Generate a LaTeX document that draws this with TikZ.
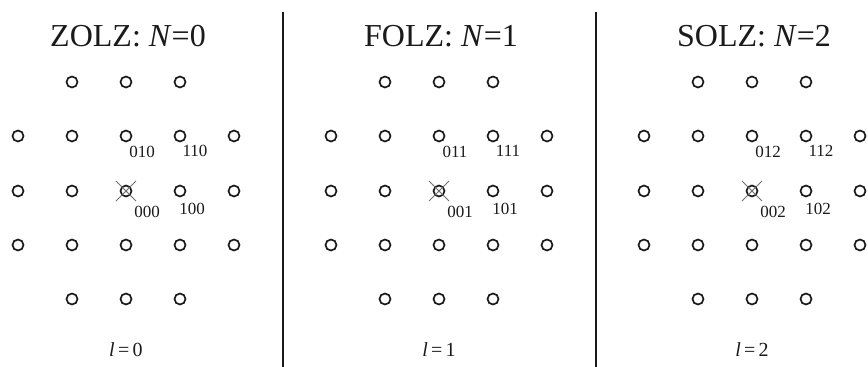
\documentclass[tikz,border=0pt]{standalone}
\usepackage{fontspec}
\setmainfont{Liberation Serif}
\usetikzlibrary{positioning}
\definecolor{ink}{HTML}{1A1A1A}
\definecolor{crossline}{HTML}{707070}
\newcommand{\titlesize}{\fontsize{32}{36}\selectfont}
\newcommand{\idxsize}{\fontsize{17}{19}\selectfont}
\newcommand{\lvlsize}{\fontsize{20}{22}\selectfont}
\tikzset{
 every node/.append style={text=ink,align=center},
 spot/.style={circle,draw=ink,line width=1.7pt,minimum size=11pt,inner sep=0pt},
 centredot/.style={circle,fill=ink,minimum size=2.6pt,inner sep=0pt},
 crossmark/.style={draw=crossline,line width=.8pt},
 index/.style={font=\idxsize,inner sep=0pt},
 title/.style={font=\titlesize,inner sep=1pt},
 level/.style={font=\lvlsize,inner sep=1pt},
 divider/.style={draw=ink,line width=1.6pt},
}
% #1 centre x, #2 name, #3 zone, #4 N
\newcommand{\lauepanel}[4]{
 \node[title] (#2-title) at (#1+2,36) {#3: \textit{N}=#4};
 \foreach \c in {-1,0,1} {
  \node[spot] (#2-t\c) at ({#1+54*\c},82) {};
  \node[spot] (#2-b\c) at ({#1+54*\c},299) {};
 }
 \foreach \c in {-2,...,2} {
  \node[spot] (#2-u\c) at ({#1+54*\c},136) {};
  \node[spot] (#2-m\c) at ({#1+54*\c},191) {};
  \node[spot] (#2-d\c) at ({#1+54*\c},245) {};
 }
 \node[centredot] (#2-dot) at (#2-m0.center) {};
 \draw[crossmark] ([shift={(-10,-10)}]#2-m0.center) -- ([shift={(10,10)}]#2-m0.center);
 \draw[crossmark] ([shift={(-10,10)}]#2-m0.center) -- ([shift={(10,-10)}]#2-m0.center);
 \node[index] (#2-i01) at (#1+16,152) {01#4};
 \node[index] (#2-i11) at (#1+69,151) {11#4};
 \node[index] (#2-i00) at (#1+21,212) {00#4};
 \node[index] (#2-i10) at (#1+66,209) {10#4};
 \node[level] (#2-level) at (#1,350) {\textit{l}\,=\,#4};
}
\begin{document}
\begin{tikzpicture}[x=1pt,y=-1pt]

\useasboundingbox (0,0) rectangle (868,367);
\lauepanel{126}{zolz}{ZOLZ}{0}
\lauepanel{439}{folz}{FOLZ}{1}
\lauepanel{752}{solz}{SOLZ}{2}
\coordinate (d1t) at (283,12); \coordinate (d1b) at (283,367);
\coordinate (d2t) at (596,12); \coordinate (d2b) at (596,367);
\draw[divider] (d1t) -- (d1b);
\draw[divider] (d2t) -- (d2b);

\end{tikzpicture}
\end{document}
